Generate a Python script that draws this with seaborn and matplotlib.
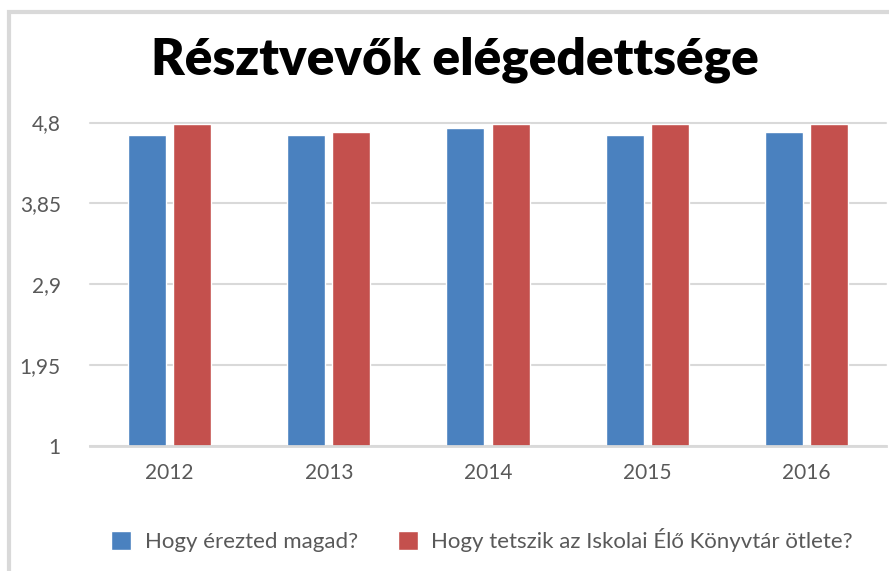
import pandas as pd
import matplotlib.pyplot as plt
import seaborn as sns
from matplotlib.patches import Rectangle

# Data
years = ["2012", "2013", "2014", "2015", "2016"]
felt = [4.65, 4.65, 4.73, 4.65, 4.69]
idea = [4.78, 4.69, 4.78, 4.78, 4.78]
series_names = ["Hogy érezted magad?", "Hogy tetszik az Iskolai Élő Könyvtár ötlete?"]
yticks = [1, 1.95, 2.9, 3.85, 4.8]
ytick_labels = ["1", "1,95", "2,9", "3,85", "4,8"]

df = pd.DataFrame({
    "Év": years * 2,
    "Érték": felt + idea,
    "Kérdés": [series_names[0]] * len(years) + [series_names[1]] * len(years),
})

sns.set_style("white")
plt.rcParams["font.family"] = ["Lato", "DejaVu Sans"]

fig = plt.figure(figsize=(8.89, 5.71), dpi=100)
ax = fig.add_axes([90 / 889, 1 - 446 / 571, (886 - 90) / 889, (446 - 122.5) / 571])

sns.barplot(data=df, x="Év", y="Érték", hue="Kérdés",
            palette=["#4a81bf", "#c4504d"], width=0.566, gap=0.156,
            saturation=1, ax=ax)

ax.set_ylim(1, 4.8)
ax.set_yticks(yticks)
ax.set_yticklabels(ytick_labels)
ax.grid(axis="y", color="#d9d9d9", linewidth=1.5, clip_on=False)
ax.set_axisbelow(True)
for s in ["left", "right", "top"]:
    ax.spines[s].set_visible(False)
ax.spines["bottom"].set_color("#d9d9d9")
ax.spines["bottom"].set_linewidth(2)
ax.set_xlabel("")
ax.set_ylabel("")
ax.tick_params(axis="y", length=0, pad=21, labelsize=15, labelcolor="#595959")
ax.tick_params(axis="x", length=0, pad=12, labelsize=15, labelcolor="#595959")

handles, labels = ax.get_legend_handles_labels()
ax.legend_.remove()
fig.legend(handles, labels, loc="center", bbox_to_anchor=(482 / 889, 1 - 540 / 571),
           ncol=2, frameon=False, fontsize=16, handlelength=0.9, handleheight=0.9,
           handletextpad=0.6, columnspacing=1.8, labelcolor="#595959")

fig.text(455 / 889, 1 - 60 / 571, "Résztvevők elégedettsége", ha="center", va="center",
         fontsize=37, fontweight="heavy", color="black")

# light grey chart border
fig.patches.append(Rectangle((9 / 889, -0.1), 1.1, 1 - 12 / 571 + 0.1,
                             transform=fig.transFigure, fill=False,
                             edgecolor="#d9d9d9", linewidth=3))

fig.savefig("out.png", dpi=100)
